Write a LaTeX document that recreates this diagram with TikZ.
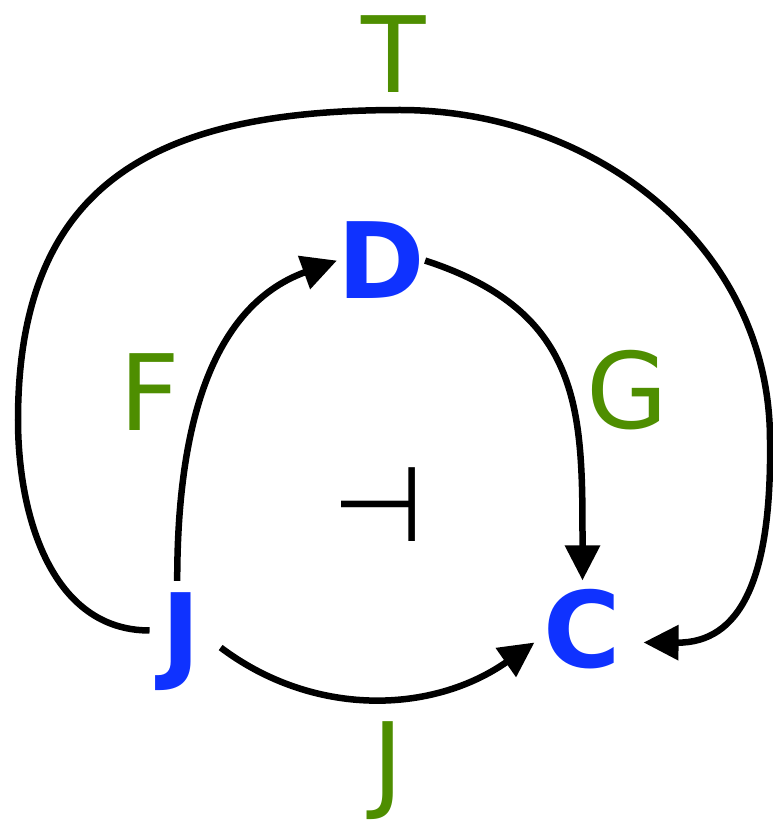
\documentclass[tikz,border=0pt]{standalone}
\usepackage{fontspec}
\setmainfont{DejaVu Sans}
\usepackage{tikz}
\usetikzlibrary{arrows.meta}
\definecolor{catblue}{RGB}{15,50,255}
\definecolor{funcgreen}{RGB}{78,142,0}

\begin{document}
\begin{tikzpicture}[x=0.2mm, y=0.2mm, >={Triangle[length=7mm, width=6.8mm]},
	every node/.style={font=\fontsize{60}{72}\selectfont, anchor=base},
	obj/.style={text=catblue, font=\bfseries\fontsize{60}{72}\selectfont},
	lab/.style={text=funcgreen, inner sep=0pt},
	arr/.style={->, line width=1.3mm}]
	\useasboundingbox (0,0) rectangle (773,826);
	\node[obj, inner sep=0pt] (D) at (381,527) {D};
	\node[obj, inner sep=2.4mm] (J) at (181.5,156) {J};
	\node[obj, inner sep=1.8mm] (C) at (582.5,158) {C};
	\node[lab] (T) at (393.5,733) {T};
	\node[lab] (F) at (150,395) {F};
	\node[lab] (G) at (627,397) {G};
	\node[lab] (Jl) at (388,27) {J};
	\node[anchor=center] (adj) at (378,321) {⊣};
	\draw[arr] (J.94) to[out=90, in=200] (D.west);
	\draw[arr] (D.east) to[out=-18, in=90, looseness=1.2] (C.north);
	\draw[arr, shorten <=1.8mm] (J.east) to[out=-37, in=215] (C.195);
	\draw[arr] (J.160) to[out=180, in=-90] (18,406) to[out=90, in=180, looseness=1.25] (400,716)
		to[out=0, in=90] (770,386) .. controls (772,246) and (740,183) .. ([xshift=2.6mm]C.-15);
\end{tikzpicture}
\end{document}
